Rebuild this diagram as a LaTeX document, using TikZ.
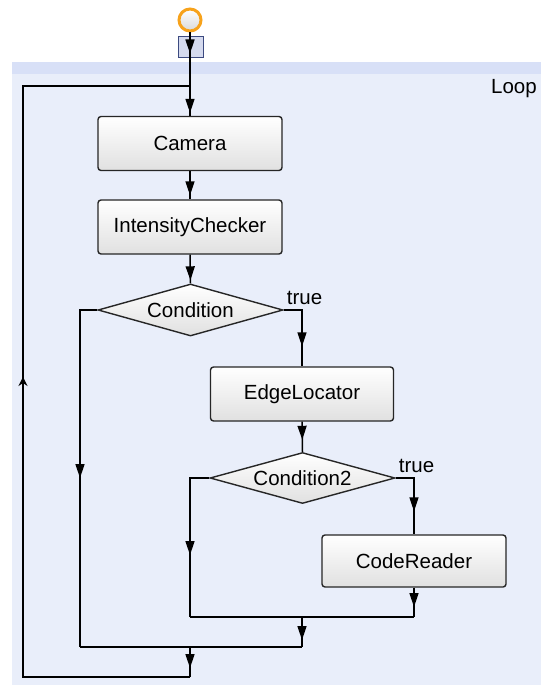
\documentclass[tikz,border=0pt]{standalone}
\usepackage{fontspec}
\setmainfont{Liberation Sans}
\usetikzlibrary{shapes.geometric,arrows.meta,decorations.markings}

\definecolor{loopbg}{RGB}{233,238,250}
\definecolor{loophead}{RGB}{216,224,247}
\definecolor{startring}{RGB}{247,162,27}
\definecolor{gateedge}{RGB}{60,74,128}
\definecolor{gatefill}{RGB}{213,218,238}

\tikzset{
	block/.style={draw=black!85, line width=1.4pt, rounded corners=3pt, top color=white, bottom color=black!12, minimum width=184pt, minimum height=54pt},
	cond/.style={diamond, draw=black!85, line width=1.4pt, top color=white, bottom color=black!12, aspect=3.6, inner sep=0pt, minimum width=185pt, minimum height=52pt},
	flow/.style={line width=1.5pt, line join=miter},
	tipat/.style={postaction={decorate, decoration={markings, mark=at position #1 with {\arrow{Triangle[width=9pt,length=14pt]}}}}},
	twotips/.style 2 args={postaction={decorate, decoration={markings, mark=at position #1 with {\arrow{Triangle[width=9pt,length=14pt]}}, mark=at position #2 with {\arrow{Triangle[width=9pt,length=14pt]}}}}},
	backtip/.style={postaction={decorate, decoration={markings, mark=at position #1 with {\arrow{Stealth[width=9pt,length=9pt,inset=3pt]}}}}},
	truelbl/.style={anchor=base west, inner sep=0pt}
}

\begin{document}
\begin{tikzpicture}[x=1pt, y=-1pt, font=\fontsize{20.5}{24}\selectfont]
			      \useasboundingbox (0,0) rectangle (546,685);
			      \fill[loopbg] (12,62) rectangle (541,685);
			      \fill[loophead] (12,62) rectangle (541,74);
			      \node[anchor=base east, inner sep=0pt] (looplbl) at (537,93) {Loop};

			      \node[circle, draw=startring, line width=3pt, top color=white, bottom color=black!15, minimum size=22pt, inner sep=0pt] (start) at (190,20) {};
			      \node[draw=gateedge, fill=gatefill, line width=1.2pt, minimum width=25pt, minimum height=21pt, inner sep=0pt] (gate) at (191,47) {};

			      \node[block] (cam) at (190,143.5) {Camera};
			      \node[block] (ic) at (190,227) {IntensityChecker};
			      \node[cond] (cnd) at (190.5,310) {Condition};
			      \node[block, minimum width=183pt] (el) at (302,394) {EdgeLocator};
			      \node[cond, minimum height=51pt] (cnd2) at (302.5,478) {Condition2};
			      \node[block, minimum height=52pt] (cr) at (414,561) {CodeReader};

			      \node[truelbl] (t1) at ([xshift=3pt, yshift=6pt]cnd.east) {true};
			      \node[truelbl] (t2) at ([xshift=3pt, yshift=6pt]cnd2.east) {true};

			      \coordinate (lj) at (190,86);
			      \coordinate (lp) at (23,86);
			      \coordinate (j1l) at (190,617);
			      \coordinate (j1m) at (302,617);
			      \coordinate (j1r) at (414,617);
			      \coordinate (j2l) at (80,647);
			      \coordinate (j2m) at (190,647);
			      \coordinate (j2r) at (302,647);
			      \coordinate (j3l) at (23,677);
			      \coordinate (j3m) at (190,677);

			      \draw[flow, twotips={21pt}{-3pt}] (start.south) -- (cam.north);
			      \draw[flow, tipat=-4pt] (cam.south) -- (ic.north);
			      \draw[flow, tipat=-3pt] (ic.south) -- (cnd.north);
			      \draw[flow, tipat=-20pt] (cnd.east) -| (el.north);
			      \draw[flow, tipat=-12pt] (el.south) -- (cnd2.north);
			      \draw[flow, tipat=-23pt] (cnd2.east) -| (cr.north);

			      \draw[flow, tipat=-62pt] (cnd2.west) -| (j1l);
			      \draw[flow, tipat=-10pt] (cr.south) -- (j1r);
			      \draw[flow] (j1l) -- (j1r);
			      \draw[flow, tipat=-7pt] (j1m) -- (j2r);

			      \draw[flow, tipat=-169pt] (cnd.west) -| (j2l);
			      \draw[flow] (j2l) -- (j2r);
			      \draw[flow, tipat=-9pt] (j2m) -- (j3m);

			      \draw[flow, backtip=467pt] (j3m) -- (j3l) -- (lp) -- (lj);
		      \end{tikzpicture}
\end{document}
